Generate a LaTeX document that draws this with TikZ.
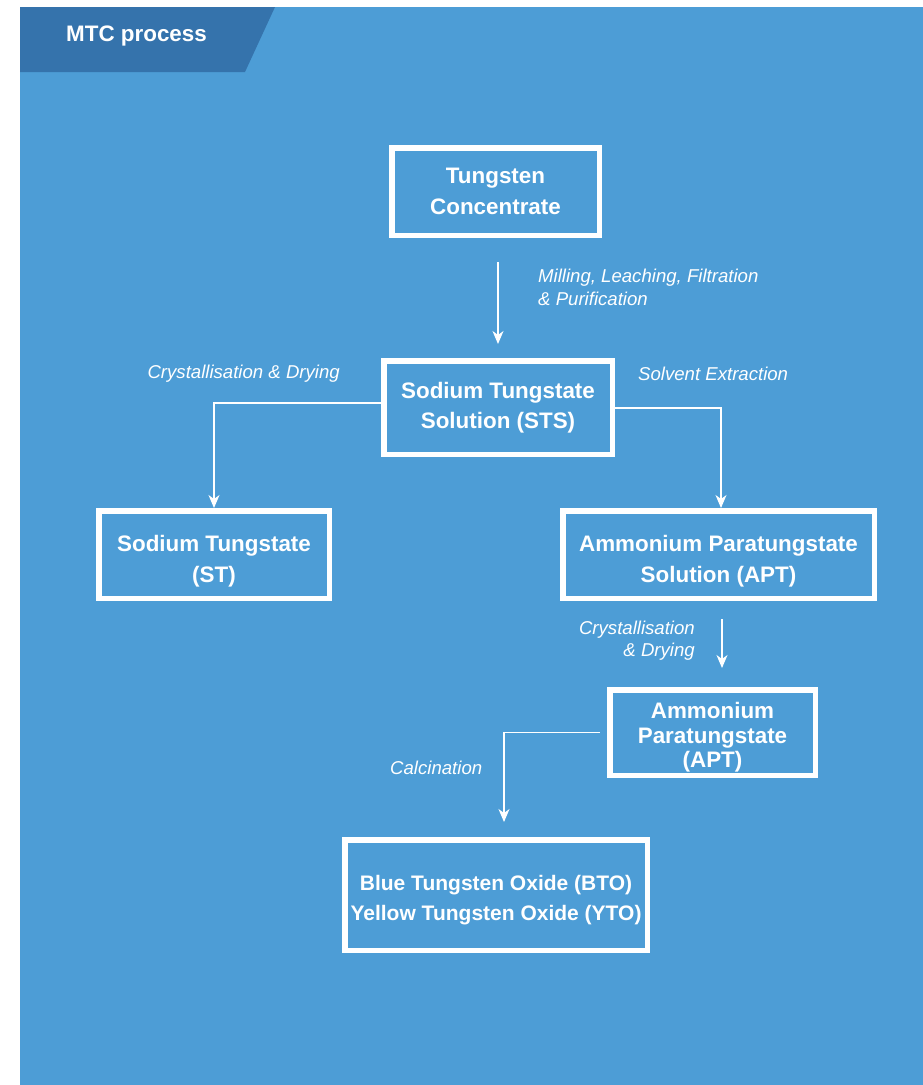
\documentclass[tikz,border=0pt]{standalone}
\usepackage{fontspec}
\setmainfont{Liberation Sans}
\usetikzlibrary{arrows.meta}
\definecolor{panel}{RGB}{77,157,214}
\definecolor{banner}{RGB}{53,115,172}
% taller first line, pushes a centred block of lines slightly down
\newcommand{\lowstrut}[1][30pt]{\rule{0pt}{#1}}
\begin{document}
\begin{tikzpicture}[x=1pt,y=-1pt,
  stage/.style={draw=white, line width=5.5pt, text=white, inner sep=0pt, align=center,
    font=\bfseries\fontsize{22.4}{30.5}\selectfont},
  flow/.style={draw=white, line width=1.2pt, -{Stealth[length=13pt,width=11pt,inset=4pt]}},
  note/.style={text=white, inner sep=0pt, font=\itshape\fontsize{18.6}{22.5}\selectfont}]
\useasboundingbox (0,0) rectangle (923,1085);
% page, panel and header banner
\fill[white] (0,0) rectangle (923,1085);
\fill[panel] (20,7) rectangle (923,1085);
\fill[banner] (20,7) -- (275,7) -- (245,72) -- (20,72) -- cycle;
\node[anchor=west, text=white, inner sep=0pt, font=\bfseries\fontsize{22.4}{26}\selectfont] (title) at (66,36) {MTC process};

% process stages
\node[stage, minimum width=207.5pt, minimum height=87.5pt] (tc) at (495.5,191.5) {Tungsten\\Concentrate};
\node[stage, minimum width=228.5pt, minimum height=93.5pt] (sts) at (498,407.5) {Sodium Tungstate\\Solution (STS)};
\node[stage, minimum width=230.5pt, minimum height=87.5pt] (st) at (214,554.5) {\lowstrut Sodium Tungstate\\(ST)};
\node[stage, minimum width=311.5pt, minimum height=87.5pt] (apts) at (718.5,554.5) {\lowstrut Ammonium Paratungstate\\Solution (APT)};
\node[stage, minimum width=205.5pt, minimum height=85.5pt, font=\bfseries\fontsize{22.4}{24.5}\selectfont] (apt) at (712.5,732.5) {\lowstrut[26pt]Ammonium\\Paratungstate\\(APT)};
\node[stage, minimum width=302.5pt, minimum height=110.5pt, font=\bfseries\fontsize{21}{30}\selectfont] (bto) at (496,895) {\lowstrut[26pt]Blue Tungsten Oxide (BTO)\\Yellow Tungsten Oxide (YTO)};

% step labels
\node[note, anchor=west, align=left] (lmill) at (538,287.5) {Milling, Leaching, Filtration\\\& Purification};
\node[note, anchor=east] (lcry1) at (340,374) {Crystallisation \& Drying};
\node[note, anchor=west] (lsolv) at (638,374) {Solvent Extraction};
\node[note, anchor=east, align=right] (lcry2) at (695,640.5) {Crystallisation\\\& Drying};
\node[note, anchor=west] (lcalc) at (390,768) {Calcination};

% flows
\draw[flow, shorten <=24pt, shorten >=14pt] (tc.south -| sts.north) -- (sts.north);
\draw[flow] ([yshift=4.5pt]sts.west) -| (st.north);
\draw[flow] ([yshift=-0.5pt]sts.east) -| ([xshift=2.5pt]apts.north);
\draw[flow, shorten <=18pt, shorten >=19pt] ([xshift=3.5pt]apts.south) -- ([xshift=3.5pt]apts.south |- apt.north);
\draw[flow, shorten <=7pt, shorten >=15pt] (apt.west) -| ([xshift=8pt]bto.north);
\end{tikzpicture}
\end{document}
